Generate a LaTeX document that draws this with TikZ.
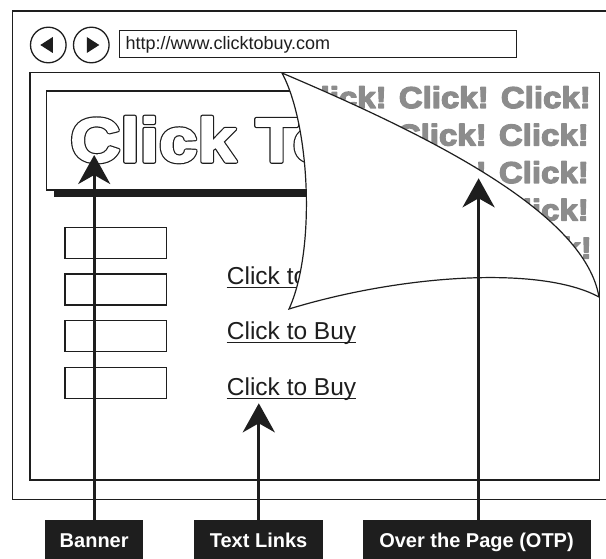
\documentclass[tikz,border=0pt]{standalone}
\usepackage{fontspec}
\setmainfont{Liberation Sans}
\newfontfamily\heavyfont{Liberation Sans}[FakeStretch=1.12]
\newfontfamily\grayfont{Liberation Sans}[FakeStretch=1.1]
\usetikzlibrary{arrows.meta}
\definecolor{clickgray}{RGB}{140,140,140}
\definecolor{ink}{RGB}{30,30,30}
\newcommand{\textrender}[2]{\special{pdf:literal direct 1 j #1 Tr #2 w}}
\newcommand{\textrenderoff}{\special{pdf:literal direct 0 Tr 0 j}}
\begin{document}
\begin{tikzpicture}[x=1pt,y=-1pt,
  outline/.style={draw=ink, line width=1.3pt},
  pointer/.style={draw=ink, line width=3.2pt, -{Stealth[length=29pt,width=32pt,inset=9pt]}},
  tagbox/.style={fill=ink, text=white, anchor=north, inner sep=0pt, minimum height=40pt,
    text height=14.3pt, text depth=0pt, font=\fontsize{20}{20}\selectfont\bfseries},
  navbox/.style={outline, minimum width=101.7pt, minimum height=31pt, inner sep=0pt},
  linktext/.style={anchor=base west, inner sep=0pt, text=ink, font=\fontsize{24.5}{24.5}\selectfont},
  grayrow/.style={anchor=base east, inner sep=0pt, text=clickgray, font=\fontsize{30}{30}\selectfont\grayfont\bfseries},
  bigtext/.style={anchor=base west, inner sep=0pt, font=\fontsize{62}{62}\selectfont\heavyfont\bfseries},
  btn/.style={draw=ink, line width=1.3pt, circle, minimum size=35.6pt, inner sep=0pt}]
\useasboundingbox (0,0) rectangle (606,559);
\clip (0,0) rectangle (606,559);
\fill[white] (0,0) rectangle (606,559);

% browser window
\draw[outline] (12.3,11) rectangle (640,499.3);
\node[btn] (back) at (48.3,45) {};
\node[btn] (fwd) at (91.3,45) {};
\fill[ink] ([xshift=-8pt]back.center) -- ++(12.5pt,8pt) -- ++(0,-16pt) -- cycle;
\fill[ink] ([xshift=8pt]fwd.center) -- ++(-12.5pt,8pt) -- ++(0,-16pt) -- cycle;
\draw[outline] (119.3,30.7) rectangle (516.7,57.7);
\node[anchor=base west, inner sep=0pt, text=ink, font=\fontsize{18}{18}\selectfont] (url) at (125.3,50) {http://www.clicktobuy.com};
\draw[outline] (30,72.5) rectangle (599.3,480);

% gray Click! rows (under the page)
\node[grayrow] (r1) at (591,108) {\textrender{2}{1.3}Click! Click! Click!\textrenderoff};
\node[grayrow] (r2) at (589,145.5) {\textrender{2}{1.3}Click! Click! Click!\textrenderoff};
\node[grayrow] (r3) at (589,183) {\textrender{2}{1.3}Click! Click!\textrenderoff};
\node[grayrow] (r4) at (589,220.5) {\textrender{2}{1.3}Click! Click!\textrenderoff};
\node[grayrow] (r5) at (592,258.5) {\textrender{2}{1.3}Click! Click!\textrenderoff};

% banner
\fill[ink] (53.7,98) rectangle (319,197.3);
\draw[outline, fill=white] (46.7,91) rectangle (312,190);
\node[bigtext] (bannertext) at (70,161.7)
  {\rlap{\color{ink}\textrender{2}{4.2}Click To\textrenderoff}\color{white}\textrender{2}{1.8}Click To\textrenderoff};

% left navigation boxes
\node[navbox] (nb1) at (115.85,242.8) {};
\node[navbox] (nb2) at (115.85,289.5) {};
\node[navbox] (nb3) at (115.85,336.2) {};
\node[navbox] (nb4) at (115.85,382.8) {};

% text links
\node[linktext] (l1) at (226.7,285) {Click to Buy};
\node[linktext] (l2) at (226.7,340) {Click to Buy};
\node[linktext] (l3) at (226.7,395.7) {Click to Buy};
\foreach \n in {l1,l2,l3}
  \draw[ink, line width=1.1pt] ([yshift=-2.4pt]\n.base west) -- ([yshift=-2.4pt]\n.base east);

% page curl
\coordinate (ctop) at (282,73);
\coordinate (cright) at (599,297);
\coordinate (cbot) at (289,309);
\draw[ink, line width=1.2pt, fill=white]
  (ctop) .. controls (440,140) and (585,215) .. (cright)
  .. controls (540,265) and (400,275) .. (cbot)
  .. controls (316,250) and (310,125) .. (ctop) -- cycle;

% labels and pointers
\node[tagbox, minimum width=97.5pt] (banner) at (94.2,520) {Banner};
\node[tagbox, minimum width=129.5pt] (links) at (258.6,520) {Text Links};
\node[tagbox, minimum width=228pt] (otp) at (476.5,520) {Over the Page (OTP)};
\coordinate (bannertip) at (94.2,155);
\coordinate (linkstip) at (258.8,403.3);
\coordinate (otptip) at (478.6,178.3);
\draw[pointer] (banner.north) -- (bannertip);
\draw[pointer] (linkstip |- links.north) -- (linkstip);
\draw[pointer] (otptip |- otp.north) -- (otptip);
\end{tikzpicture}
\end{document}
